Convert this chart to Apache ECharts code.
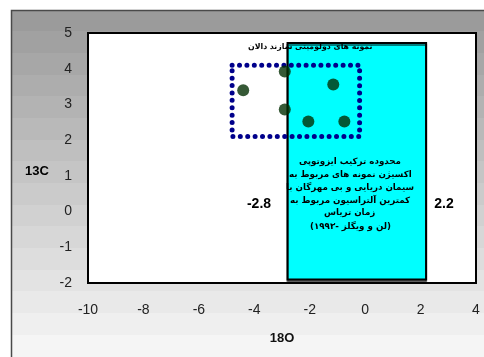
<!DOCTYPE html>
<html>
<head>
<meta charset="utf-8">
<script src="https://cdn.jsdelivr.net/npm/echarts@6/dist/echarts.min.js"></script>
<style>
  html, body { margin: 0; padding: 0; background: #fff; }
  #chart { width: 484px; height: 357px; }
</style>
</head>
<body>
<div id="chart"></div>
<script>
// Dolomite samples of the Dalan Formation (δ18O, δ13C)
const sampleO18 = [-4.4, -2.9, -1.15, -2.9, -2.05, -0.75];
const sampleC13 = [3.4, 3.92, 3.56, 2.86, 2.52, 2.52];

// Marine cement / invertebrate field (Triassic), x and y extent
const marineO18 = [-2.8, 2.2];
const marineC13 = [-1.9, 4.72];

// Envelope around the dolomite samples
const envelopeO18 = [-4.8, -0.2];
const envelopeC13 = [2.1, 4.1];

// Axis ranges and tick spacing
const xRange = [-10, 4], xStep = 2;
const yRange = [-2, 5], yStep = 1;

const envelopeTitle = 'نمونه های دولومیتی سازند دالان';
const marineText = [
  'محدوده ترکیب ایزوتوپی',
  'اکسیژن نمونه های مربوط به',
  'سیمان دریایی و بی مهرگان با',
  'کمترین آلتراسیون مربوط به',
  'زمان تریاس',
  '(لن و ویگلز -۱۹۹۳)'
];

const faFont = '"DejaVu Sans", "Noto Sans", sans-serif';
const numFont = '"Liberation Sans", Arial, sans-serif';
const faStyle = 'bold 8.7px ' + faFont;
const titleStyle = 'bold 7.8px ' + faFont;

// measure with the same canvas engine so centred Persian lines land correctly
const measureCtx = document.createElement('canvas').getContext('2d');
function textWidth(text, font) {
  measureCtx.font = font;
  return measureCtx.measureText(text).width;
}

function rectItem(xs, ys, style) {
  return function (params, api) {
    const p1 = api.coord([xs[0], ys[1]]);
    const p2 = api.coord([xs[1], ys[0]]);
    return {
      type: 'rect',
      shape: { x: p1[0], y: p1[1], width: p2[0] - p1[0], height: p2[1] - p1[1] },
      style: style
    };
  };
}

function label(text, x, y, font, align) {
  return {
    type: 'text', z: 50, x: x, y: y, silent: true,
    style: {
      text: text, font: font, fill: '#000',
      textAlign: align || 'center', textVerticalAlign: 'middle'
    }
  };
}

function centredPersian(text, cx, y, font) {
  return label(text, Math.round(cx - textWidth(text, font) / 2), y, font, 'left');
}

// grey-to-white panel, painted as a stack of horizontal bands
function panelBands() {
  const top = 10, bottom = 357, count = 16, bands = [];
  const h = (bottom - top) / count;
  const c0 = 152, c1 = 248;
  for (let i = 0; i < count; i++) {
    const v = Math.round(c0 + (c1 - c0) * (i + 0.5) / count);
    bands.push({
      type: 'rect', silent: true,
      shape: { x: 11, y: Math.floor(top + i * h), width: 473, height: Math.ceil(h) + 1 },
      style: { fill: 'rgb(' + v + ',' + v + ',' + v + ')' }
    });
  }
  return bands;
}

const chart = echarts.init(document.getElementById('chart'), null, { renderer: 'canvas' });

const blockCentre = 350;
const blockY = [162, 175, 188, 201, 213, 227];

chart.setOption({
  animation: false,
  backgroundColor: '#fff',
  graphic: panelBands().concat([
    {
      type: 'polyline', silent: true,
      shape: { points: [[11.5, 357], [11.5, 10.5], [484, 10.5]] },
      style: { stroke: '#4a4a4a', lineWidth: 1.5, fill: null }
    },
    label(String(marineO18[0]), 259, 204, 'bold 14px ' + numFont),
    label(String(marineO18[1]), 444, 204, 'bold 14px ' + numFont),
    label('13C', 37, 171, 'bold 13px ' + numFont),
    centredPersian(envelopeTitle, 310, 47, titleStyle)
  ]).concat(marineText.map(function (t, i) {
    return centredPersian(t, blockCentre, blockY[i], faStyle);
  })),
  grid: {
    left: 88, right: 8, top: 33, bottom: 74
  },
  xAxis: {
    type: 'value', min: xRange[0], max: xRange[1], interval: xStep,
    name: '18O', nameLocation: 'middle', nameGap: 49,
    nameTextStyle: { fontFamily: numFont, fontWeight: 'bold', fontSize: 13, color: '#111' },
    axisLine: { show: false }, axisTick: { show: false }, splitLine: { show: false },
    axisLabel: { margin: 20, fontFamily: numFont, fontSize: 14, color: '#222' }
  },
  yAxis: {
    type: 'value', min: yRange[0], max: yRange[1], interval: yStep,
    axisLine: { show: false }, axisTick: { show: false }, splitLine: { show: false },
    axisLabel: { margin: 16, fontFamily: numFont, fontSize: 14, color: '#222' }
  },
  series: [
    {
      // white plotting field with its black frame
      type: 'custom', z: 1, silent: true,
      data: [[xRange[0], yRange[0]]],
      renderItem: rectItem(xRange, yRange, {
        fill: '#fff', stroke: '#000', lineWidth: 2
      })
    },
    {
      type: 'custom', z: 2, silent: true,
      data: [[marineO18[0], marineC13[0]]],
      renderItem: rectItem(marineO18, marineC13, {
        fill: '#00ffff', stroke: '#000', lineWidth: 2,
        shadowColor: 'rgba(0,0,0,0.5)', shadowOffsetY: 2, shadowOffsetX: 0, shadowBlur: 0
      })
    },
    {
      type: 'custom', z: 3, silent: true,
      data: [[envelopeO18[0], envelopeC13[0]]],
      renderItem: rectItem(envelopeO18, envelopeC13, {
        fill: 'none', stroke: '#00008b', lineWidth: 5,
        lineDash: [0, 7.4], lineCap: 'round'
      })
    },
    {
      type: 'scatter', z: 4, symbol: 'circle', symbolSize: 12,
      itemStyle: { color: '#043004' },
      data: sampleO18.map(function (x, i) { return [x, sampleC13[i]]; })
    }
  ]
});
</script>
</body>
</html>
